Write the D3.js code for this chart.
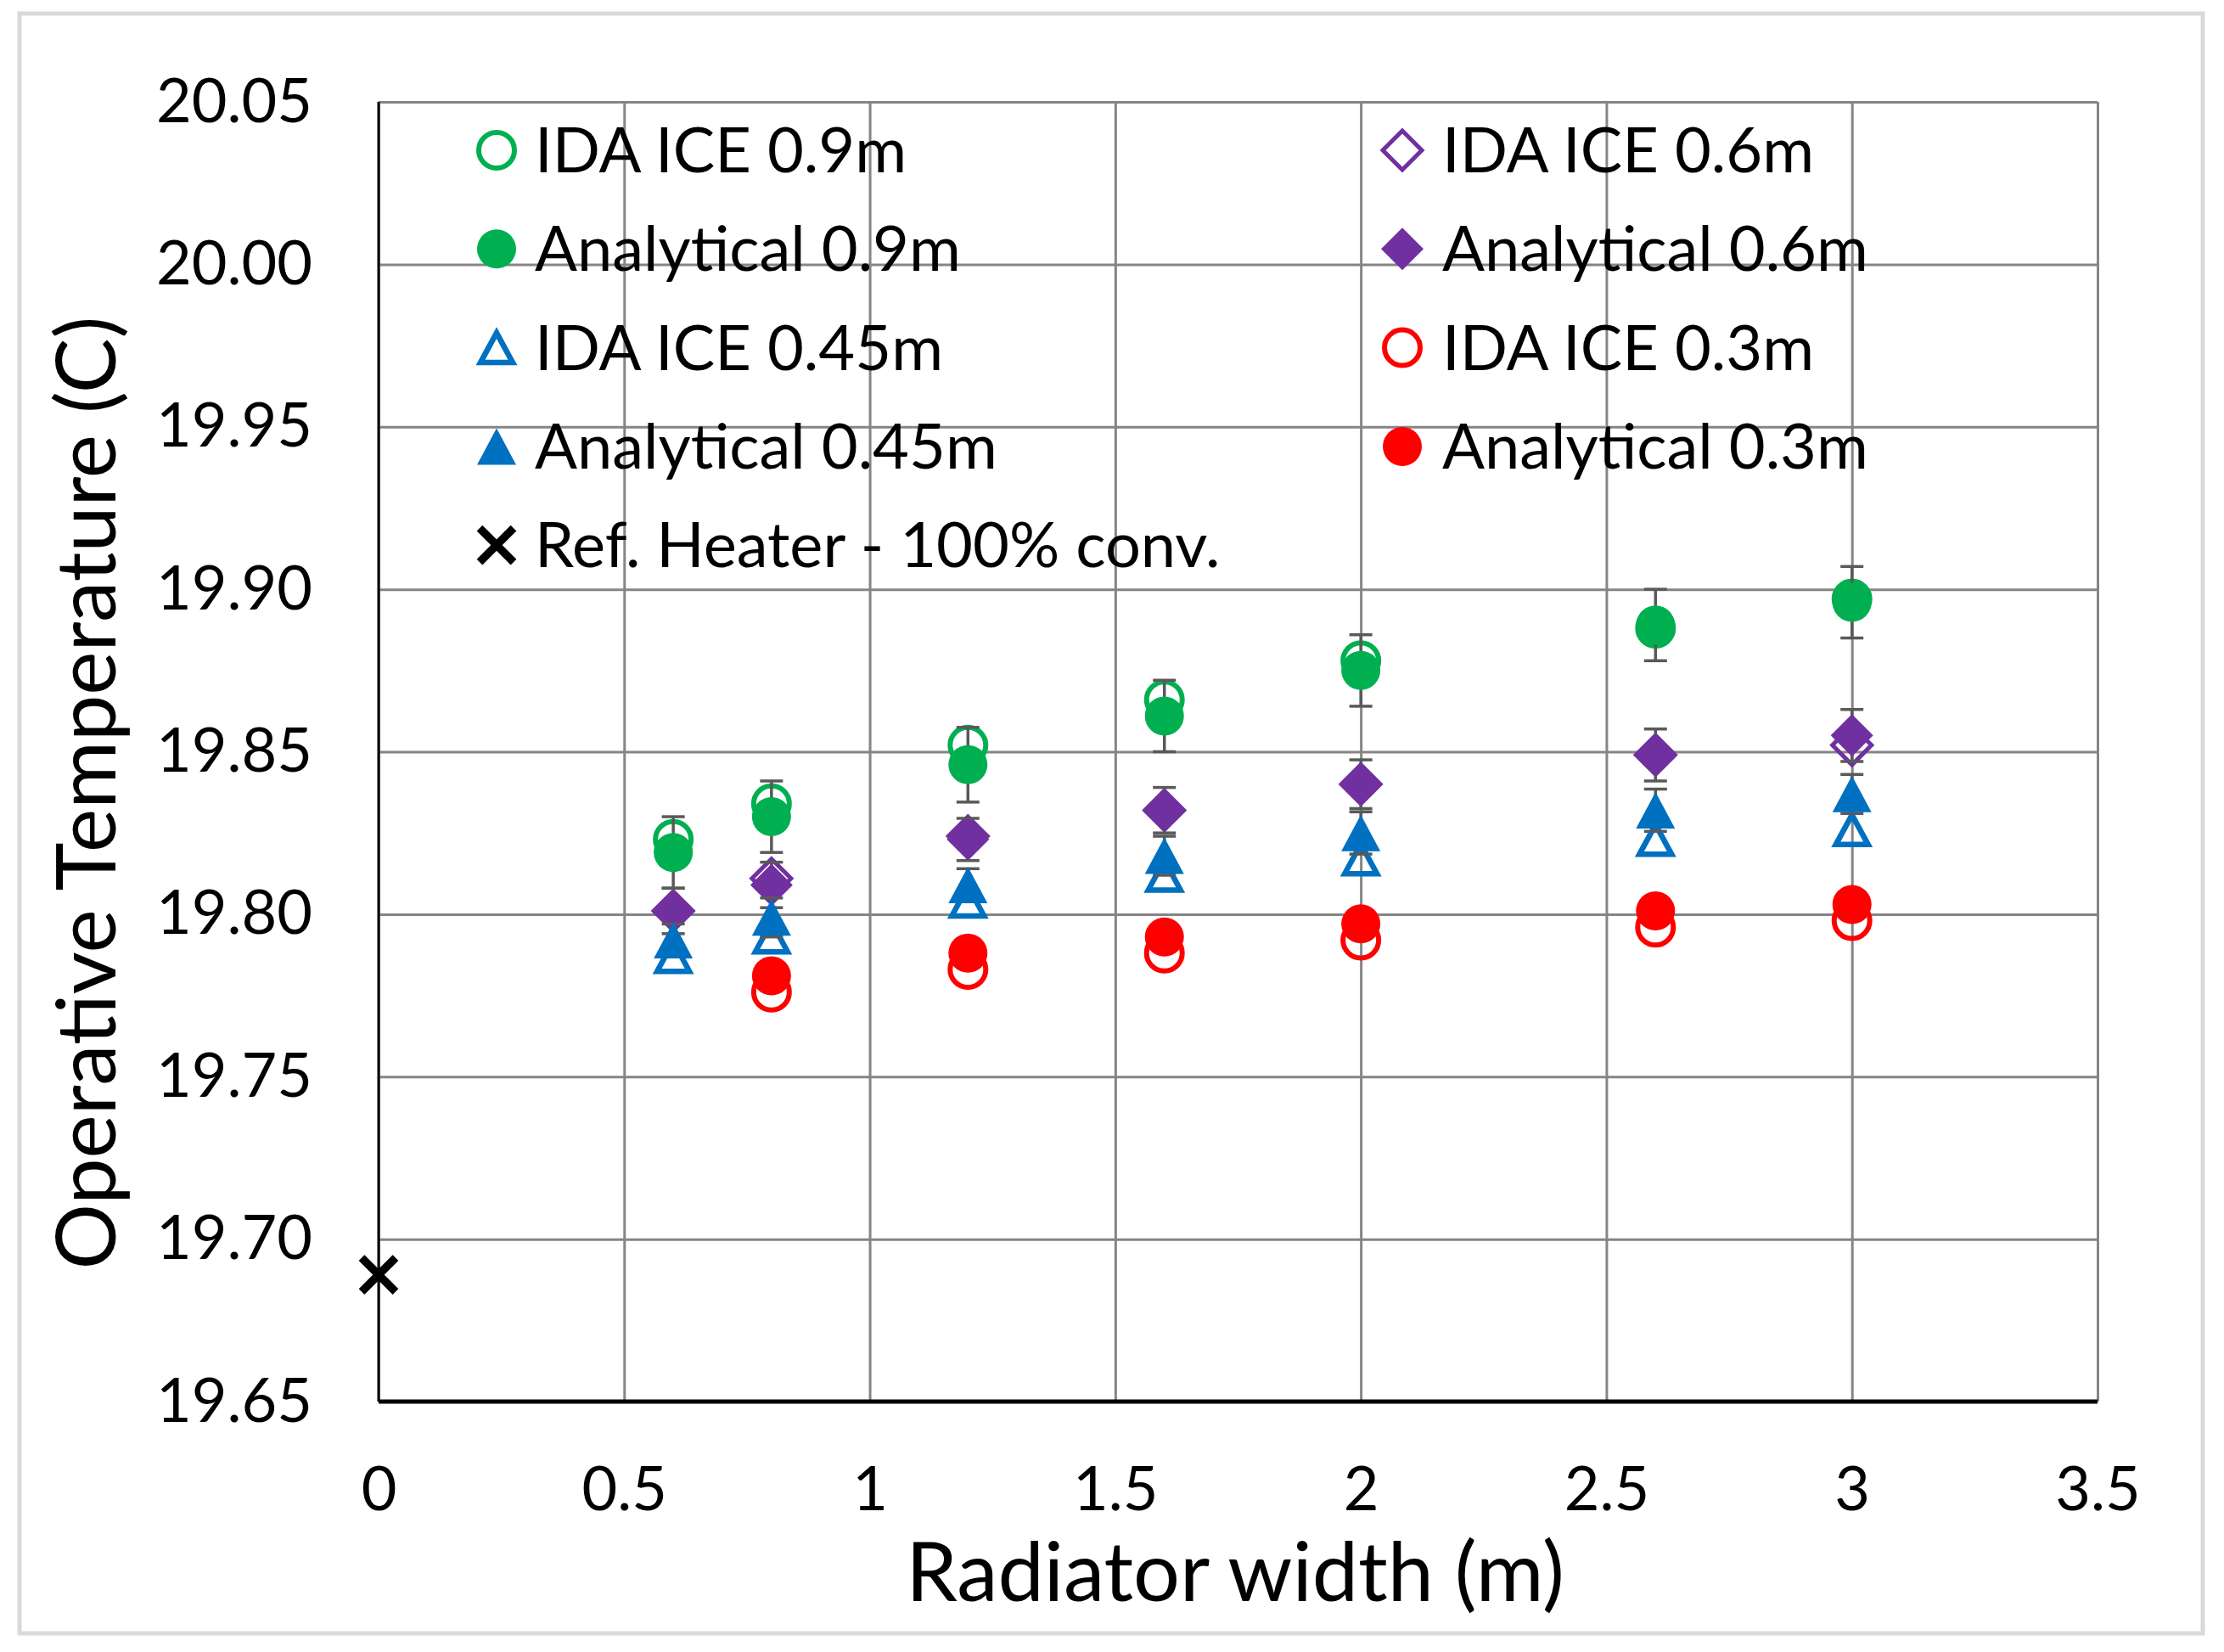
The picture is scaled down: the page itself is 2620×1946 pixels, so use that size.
<!DOCTYPE html>
<html><head><meta charset="utf-8">
<script src="https://cdn.jsdelivr.net/npm/d3@7"></script>
<style>
html,body{margin:0;padding:0;background:#fff}
svg{display:block}
text{font-family:Lato,"Open Sans",sans-serif;fill:#000}
</style>
</head><body>
<svg id="chart" width="2620" height="1946"></svg>
<script>
// ---------------- data ----------------
const widths      = [0.6, 0.8, 1.2, 1.6, 2.0, 2.6, 3.0];
const idaIce09    = [19.823, 19.834, 19.852, 19.866, 19.878, 19.888, 19.897];
const analytic09  = [19.819, 19.830, 19.846, 19.861, 19.875, 19.889, 19.896];
const err09       = [0.011, 0.011, 0.0115, 0.011, 0.011, 0.011, 0.011];
const idaIce06    = [19.801, 19.811, 19.824, 19.832, 19.840, 19.849, 19.852];
const analytic06  = [19.801, 19.809, 19.823, 19.832, 19.840, 19.849, 19.855];
const err06       = [0.007, 0.007, 0.0065, 0.007, 0.0075, 0.008, 0.008];
const idaIce045   = [19.787, 19.793, 19.804, 19.812, 19.817, 19.823, 19.826];
const analytic045 = [19.792, 19.799, 19.809, 19.818, 19.825, 19.832, 19.837];
const err045      = [0.005, 0.006, 0.005, 0.006, 0.0065, 0.0065, 0.006];
const widths03    = [0.8, 1.2, 1.6, 2.0, 2.6, 3.0];
const idaIce03    = [19.776, 19.783, 19.788, 19.792, 19.796, 19.798];
const analytic03  = [19.781, 19.788, 19.793, 19.797, 19.801, 19.803];
const refX        = [0];
const refY        = [19.689];

const xTicks      = [0, 0.5, 1, 1.5, 2, 2.5, 3, 3.5];
const xTickLabels = ["0", "0.5", "1", "1.5", "2", "2.5", "3", "3.5"];
const yTicks      = [19.65, 19.70, 19.75, 19.80, 19.85, 19.90, 19.95, 20.00, 20.05];
const yTickLabels = ["19.65", "19.70", "19.75", "19.80", "19.85", "19.90", "19.95", "20.00", "20.05"];

const xTitle = "Radiator width (m)";
const yTitle = "Operative Temperature (C)";

// ---------------- setup ----------------
const svg = d3.select("#chart");
const plot = {left: 446, right: 2471, top: 120, bottom: 1651};

const x = d3.scaleLinear().domain([0, 3.5]).range([plot.left, plot.right]);
const y = d3.scaleLinear().domain([19.65, 20.05]).range([plot.bottom, plot.top]);

const GREEN = "#00b050", PURPLE = "#7030a0", BLUE = "#0070c0", RED = "#ff0000";
const TICK_FONT = "72px", LEGEND_FONT = "74px", TITLE_FONT = "97px";

// outer frame
svg.append("rect").attr("x", 23).attr("y", 16).attr("width", 2572).attr("height", 1908)
  .attr("fill", "#fff").attr("stroke", "#d9d9d9").attr("stroke-width", 5);

// ---------------- axes / grid ----------------
const gx = svg.append("g").attr("transform", `translate(0,${plot.bottom})`)
  .call(d3.axisBottom(x).tickValues(xTicks)
    .tickFormat((d, i) => xTickLabels[i])
    .tickSize(-(plot.bottom - plot.top)).tickPadding(77));
const gy = svg.append("g").attr("transform", `translate(${plot.left},0)`)
  .call(d3.axisLeft(y).tickValues(yTicks)
    .tickFormat((d, i) => yTickLabels[i])
    .tickSize(-(plot.right - plot.left)).tickPadding(78));

[gx, gy].forEach(g => {
  g.select(".domain").remove();
  g.selectAll(".tick line").attr("stroke", "#858585").attr("stroke-width", 3);
  g.selectAll(".tick text").style("font-size", TICK_FONT).attr("fill", "#000")
    .style("font-family", "Lato, 'Open Sans', sans-serif");
});

// axis lines
svg.append("line").attr("x1", x(0)).attr("x2", x(0)).attr("y1", y(20.05)).attr("y2", y(19.65))
  .attr("stroke", "#000").attr("stroke-width", 3);
svg.append("line").attr("x1", x(0)).attr("x2", x(3.5)).attr("y1", y(19.65)).attr("y2", y(19.65))
  .attr("stroke", "#000").attr("stroke-width", 5);

// titles
svg.append("text").attr("x", 1455).attr("y", 1886).attr("text-anchor", "middle")
  .style("font-size", TITLE_FONT).text(xTitle);
svg.append("text").attr("transform", `translate(136,934) rotate(-90)`).attr("text-anchor", "middle")
  .style("font-size", TITLE_FONT).text(yTitle);

// ---------------- marker shapes ----------------
const shapes = {
  circle: r => `M${r},0A${r},${r} 0 1,1 ${-r},0A${r},${r} 0 1,1 ${r},0Z`,
  triangle: (w, h) => `M0,${-h / 2}L${w / 2},${h / 2}L${-w / 2},${h / 2}Z`,
  diamond: s => `M0,${-s}L${s},0L0,${s}L${-s},0Z`,
  cross: s => `M${-s},${-s}L${s},${s}M${s},${-s}L${-s},${s}`
};
const markerStyle = {
  openCircle:     {d: shapes.circle(21), fill: "none", sw: 6},
  filledCircle:   {d: shapes.circle(23), fill: "c", sw: 0},
  openTriangle:   {d: shapes.triangle(38, 35), fill: "none", sw: 6.5},
  filledTriangle: {d: shapes.triangle(46, 43), fill: "c", sw: 0},
  openDiamond:    {d: shapes.diamond(23), fill: "none", sw: 5},
  filledDiamond:  {d: shapes.diamond(25), fill: "c", sw: 0},
  cross:          {d: shapes.cross(20), fill: "none", sw: 9.5}
};

function applyMarker(sel, kind, color) {
  const m = markerStyle[kind];
  sel.attr("d", m.d)
    .attr("fill", m.fill === "c" ? color : "none")
    .attr("stroke", m.sw ? color : "none")
    .attr("stroke-width", m.sw)
    .attr("stroke-linejoin", "miter")
    .attr("stroke-linecap", "butt");
}

// series in Excel plotting order
const series = [
  {name: "IDA ICE 0.9m",          xs: widths,   ys: idaIce09,    kind: "openCircle",     color: GREEN},
  {name: "IDA ICE 0.6m",          xs: widths,   ys: idaIce06,    kind: "openDiamond",    color: PURPLE},
  {name: "Analytical 0.9m",       xs: widths,   ys: analytic09,  kind: "filledCircle",   color: GREEN,  err: err09},
  {name: "Analytical 0.6m",       xs: widths,   ys: analytic06,  kind: "filledDiamond",  color: PURPLE, err: err06},
  {name: "IDA ICE 0.45m",         xs: widths,   ys: idaIce045,   kind: "openTriangle",   color: BLUE},
  {name: "IDA ICE 0.3m",          xs: widths03, ys: idaIce03,    kind: "openCircle",     color: RED},
  {name: "Analytical 0.45m",      xs: widths,   ys: analytic045, kind: "filledTriangle", color: BLUE,   err: err045},
  {name: "Analytical 0.3m",       xs: widths03, ys: analytic03,  kind: "filledCircle",   color: RED},
  {name: "Ref. Heater - 100% conv.", xs: refX,  ys: refY,        kind: "cross",          color: "#000"}
];

const gData = svg.append("g");
series.forEach(s => {
  const pts = s.xs.map((xv, i) => ({x: xv, y: s.ys[i], e: s.err ? s.err[i] : 0}));
  const g = gData.append("g");
  if (s.err) {
    const eb = g.selectAll("g.eb").data(pts).join("g").attr("class", "eb")
      .attr("stroke", "#595959").attr("stroke-width", 3.5);
    eb.append("line").attr("x1", d => x(d.x)).attr("x2", d => x(d.x))
      .attr("y1", d => y(d.y + d.e)).attr("y2", d => y(d.y - d.e));
    eb.append("line").attr("x1", d => x(d.x) - 13.5).attr("x2", d => x(d.x) + 13.5)
      .attr("y1", d => y(d.y + d.e)).attr("y2", d => y(d.y + d.e));
    eb.append("line").attr("x1", d => x(d.x) - 13.5).attr("x2", d => x(d.x) + 13.5)
      .attr("y1", d => y(d.y - d.e)).attr("y2", d => y(d.y - d.e));
  }
  g.selectAll("path").data(pts).join("path")
    .attr("transform", d => `translate(${x(d.x)},${y(d.y)})`)
    .call(applyMarker, s.kind, s.color);
});

// ---------------- legend ----------------
const legendLeft  = ["IDA ICE 0.9m", "Analytical 0.9m", "IDA ICE 0.45m", "Analytical 0.45m", "Ref. Heater - 100% conv."];
const legendRight = ["IDA ICE 0.6m", "Analytical 0.6m", "IDA ICE 0.3m", "Analytical 0.3m"];
const legendRowY = i => 177 + i * 116.3;
const gLeg = svg.append("g");
[[legendLeft, 585, 630], [legendRight, 1652, 1699]].forEach(([names, mx, tx]) => {
  names.forEach((nm, i) => {
    const s = series.find(d => d.name === nm);
    const cy = legendRowY(i);
    gLeg.append("path").attr("transform", `translate(${mx},${cy})`).call(applyMarker, s.kind, s.color);
    gLeg.append("text").attr("x", tx).attr("y", cy + 26).style("font-size", LEGEND_FONT).text(nm);
  });
});
</script>
</body></html>
